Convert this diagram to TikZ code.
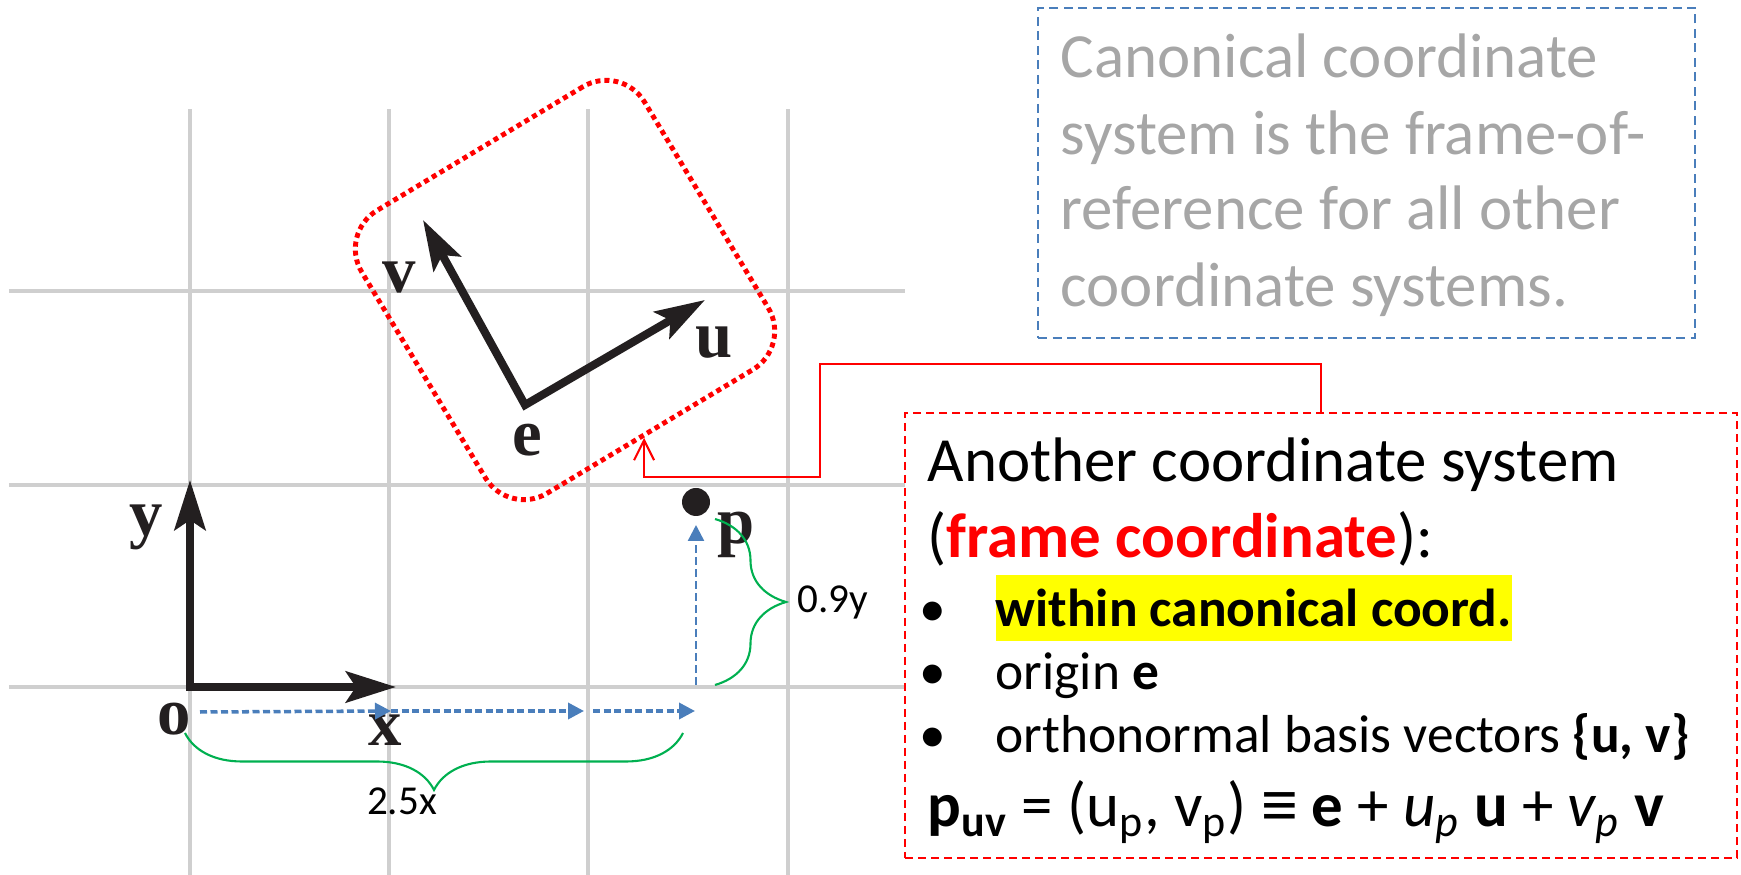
\documentclass[tikz,border=0pt]{standalone}
\usepackage{fontspec}
\setmainfont{Carlito}
\newfontfamily\figserif{Liberation Serif}
\newfontfamily\symfont{Liberation Sans}
\usetikzlibrary{arrows.meta, positioning, calc, decorations.pathreplacing}
\definecolor{gridgray}{HTML}{CFCFCF}
\definecolor{stepblue}{HTML}{4A7EBB}
\definecolor{bracegreen}{HTML}{00B050}
\definecolor{notegray}{HTML}{A6A6A6}
\definecolor{inkblack}{HTML}{231F20}
\definecolor{hlyellow}{HTML}{FFFF00}

\begin{document}
\begin{tikzpicture}[
    gridline/.style={gridgray, line width=0.9pt},
    axis/.style={{Stealth[length=5mm, width=3.1mm, inset=1mm]}-{Stealth[length=5mm, width=3.1mm, inset=1mm]},
                 inkblack, line width=2.3pt, line join=miter},
    axlabel/.style={inner sep=0pt, inkblack, font=\figserif\bfseries\fontsize{19}{19}\selectfont},
    walk/.style={-{Triangle[length=1.6mm, width=1.6mm]}, stepblue, line width=1pt,
                 dash pattern=on 0.7mm off 0.35mm},
    measure/.style={decorate, bracegreen, line width=0.6pt},
    framing/.style={draw=red, line width=1.4pt, dash pattern=on 0.5mm off 0.4mm,
                    rounded corners=4.5mm, minimum size=3.3cm, rotate=31},
    callout/.style={-{Straight Barb[length=2mm, width=2mm]}, red, line width=0.6pt},
    notebox/.style={draw=stepblue, line width=0.5pt, dash pattern=on 0.9mm off 0.55mm,
                    minimum width=6.57cm, minimum height=3.30cm},
    framebox/.style={draw=red, fill=white, line width=0.5pt, dash pattern=on 0.8mm off 0.5mm,
                     minimum width=8.32cm, minimum height=4.45cm},
    note/.style={anchor=base west, inner sep=0pt, notegray, font=\fontsize{17.9}{20}\selectfont},
    heading/.style={anchor=base west, inner sep=0pt, font=\fontsize{17.9}{20}\selectfont},
    item/.style={anchor=base west, inner sep=0pt, font=\fontsize{15.2}{18}\selectfont},
    small/.style={inner sep=0pt, font=\fontsize{11.7}{13}\selectfont}
  ]
  \useasboundingbox (0, 0) rectangle (17.41, 8.75);

  % grid
  \foreach \gx in {1.90, 3.89, 5.88, 7.88}
    \draw[gridline] (\gx, 0) -- (\gx, 7.66);
  \foreach \gy in {5.84, 3.90, 1.88}
    \draw[gridline] (0.09, \gy) -- (9.05, \gy);

  % canonical frame
  \coordinate (o) at (1.90, 1.88);
  \coordinate (xtip) at (3.96, 1.88);
  \coordinate (ytip) at (1.90, 3.95);
  \draw[axis] (ytip) -- (o) -- (xtip);
  \node[axlabel] (ylab) at (1.46, 3.48) {y};
  \node[axlabel] (olab) at (1.74, 1.56) {o};
  \node[axlabel] (xlab) at (3.85, 1.45) {x};

  % frame e
  \node[framing] (ebox) at (5.65, 5.85) {};
  \coordinate (e) at (5.25, 4.70);
  \coordinate (utip) at (7.05, 5.75);
  \coordinate (vtip) at (4.23, 6.55);
  \draw[axis] (vtip) -- (e) -- (utip);
  \node[axlabel] (vlab) at (3.99, 5.97) {v};
  \node[axlabel] (ulab) at (7.14, 5.32) {u};
  \node[axlabel] (elab) at (5.27, 4.35) {e};

  % point p
  \node[circle, fill=inkblack, minimum size=2.8mm, inner sep=0pt] (p) at (6.96, 3.73) {};
  \node[axlabel] (plab) at (7.36, 3.40) {p};

  % steps 2.5x, 0.9y
  \coordinate (s0) at (2.00, 1.63);
  \coordinate (s1) at (3.91, 1.64);
  \coordinate (s2) at (5.84, 1.64);
  \coordinate (s3) at (5.93, 1.64);
  \coordinate (s4) at (6.95, 1.64);
  \coordinate (up0) at (6.96, 1.90);
  \coordinate (up1) at (6.96, 3.50);
  \draw[walk] (s0) -- (s1);
  \draw[walk] (s1) -- (s2);
  \draw[walk] (s3) -- (s4);
  \draw[walk, line width=0.7pt, dash pattern=on 0.8mm off 0.4mm] (up0) -- (up1);

  % braces
  \coordinate (bx0) at (1.85, 1.42);
  \coordinate (bx1) at (6.83, 1.42);
  \coordinate (by0) at (7.15, 1.90);
  \coordinate (by1) at (7.15, 3.56);
  \draw[measure, decoration={brace, amplitude=5.7mm}] (bx1) -- (bx0);
  \node[small, anchor=base] (twohalf) at (4.02, 0.60) {2.5x};
  \draw[measure, decoration={brace, amplitude=7.1mm}] (by1) -- (by0);
  \node[small, anchor=base west] (ninetenths) at (7.97, 2.62) {0.9y};

  % canonical note
  \node[notebox] (canon) at (13.665, 7.02) {};
  \node[note] (note1) at (10.60, 7.97) {Canonical coordinate};
  \node[note] (note2) at (10.60, 7.20) {system is the frame-of-};
  \node[note] (note3) at (10.60, 6.45) {reference for all other};
  \node[note] (note4) at (10.60, 5.68) {coordinate systems.};

  % frame note
  \node[framebox] (fbox) at (13.21, 2.395) {};
  \coordinate (hook) at ($(ebox.south)!0.05!(ebox.south west)$);
  \draw[callout] (fbox.north) -- ++(0, 0.48) -| (8.20, 3.98) -| (hook);

  \node[heading] (title1) at (9.27, 3.93) {Another coordinate system};
  \node[heading] (title2) at (9.27, 3.17) {(\textcolor{red}{\textbf{frame coordinate}}):};
  \foreach \by [count=\k] in {2.48, 1.85, 1.22}
    \node[item] (bullet\k) at (9.19, \by) {\textbullet};
  \node[item, fill=hlyellow, text height=5.2mm, text depth=1.4mm] (within) at (9.95, 2.48) {\textbf{within canonical coord.}};
  \node[item] (origin) at (9.95, 1.85) {origin \textbf{e}};
  \node[item] (basis) at (9.95, 1.22) {orthonormal basis vectors \textbf{\{u, v\}}};
  \node[heading] (puv) at (9.27, 0.48) {\textbf{p}\textsubscript{\textbf{uv}} = (u\textsubscript{p}, v\textsubscript{p}) {\symfont ≡} \textbf{e} + \textit{u\textsubscript{p}} \textbf{u} + \textit{v\textsubscript{p}} \textbf{v}};
\end{tikzpicture}
\end{document}
